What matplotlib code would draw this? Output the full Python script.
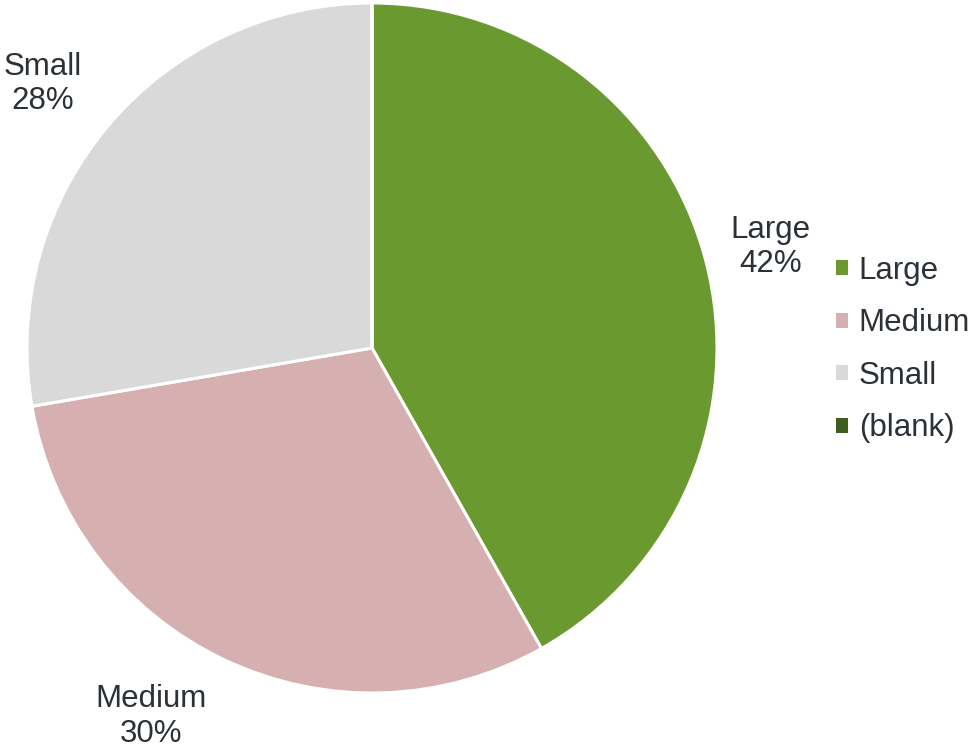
import matplotlib
matplotlib.use("Agg")
import matplotlib.pyplot as plt
from matplotlib.patches import Patch

plt.rcParams['font.family'] = ['Liberation Sans', 'DejaVu Sans']

categories = ["Large", "Medium", "Small", "(blank)"]
counts = [151, 110, 100, 0]
colors = ["#6a9a2f", "#d6b0b1", "#d9d9d9", "#3f5e1e"]
text_color = "#2b3137"

fig = plt.figure(figsize=(9.74, 7.5), dpi=100)
W, H = 974, 750
ax = fig.add_axes([27 / W, 57 / H, 690 / W, 690 / H])

total = sum(counts)
wedges, _ = ax.pie(counts, colors=colors, startangle=90, counterclock=False,
                   radius=1.0, wedgeprops=dict(edgecolor="white", linewidth=2.2))
ax.set_xlim(-1, 1)
ax.set_ylim(-1, 1)
ax.set_aspect("equal")

# Data labels outside the pie for non-empty slices
label_pos = {"Large": (1.155, 0.293), "Small": (-0.955, 0.765), "Medium": (-0.64, -1.068)}
for name, c in zip(categories, counts):
    if c == 0:
        continue
    pct = round(100 * c / total)
    x, y = label_pos[name]
    ax.text(x, y, f"{name}\n{pct}%", ha="center", va="center", fontsize=22.5,
            color=text_color, linespacing=1.2, clip_on=False)

handles = [Patch(facecolor=col, edgecolor="none") for col in colors]
leg = fig.legend(handles, categories, loc="upper left", bbox_to_anchor=(836 / W, 1 - 256 / H),
                 frameon=False, fontsize=22.5, handlelength=0.37, handleheight=0.37,
                 handletextpad=0.36, labelspacing=0.72, borderaxespad=0, borderpad=0)
for t in leg.get_texts():
    t.set_color(text_color)

fig.savefig("out.png", dpi=100)
